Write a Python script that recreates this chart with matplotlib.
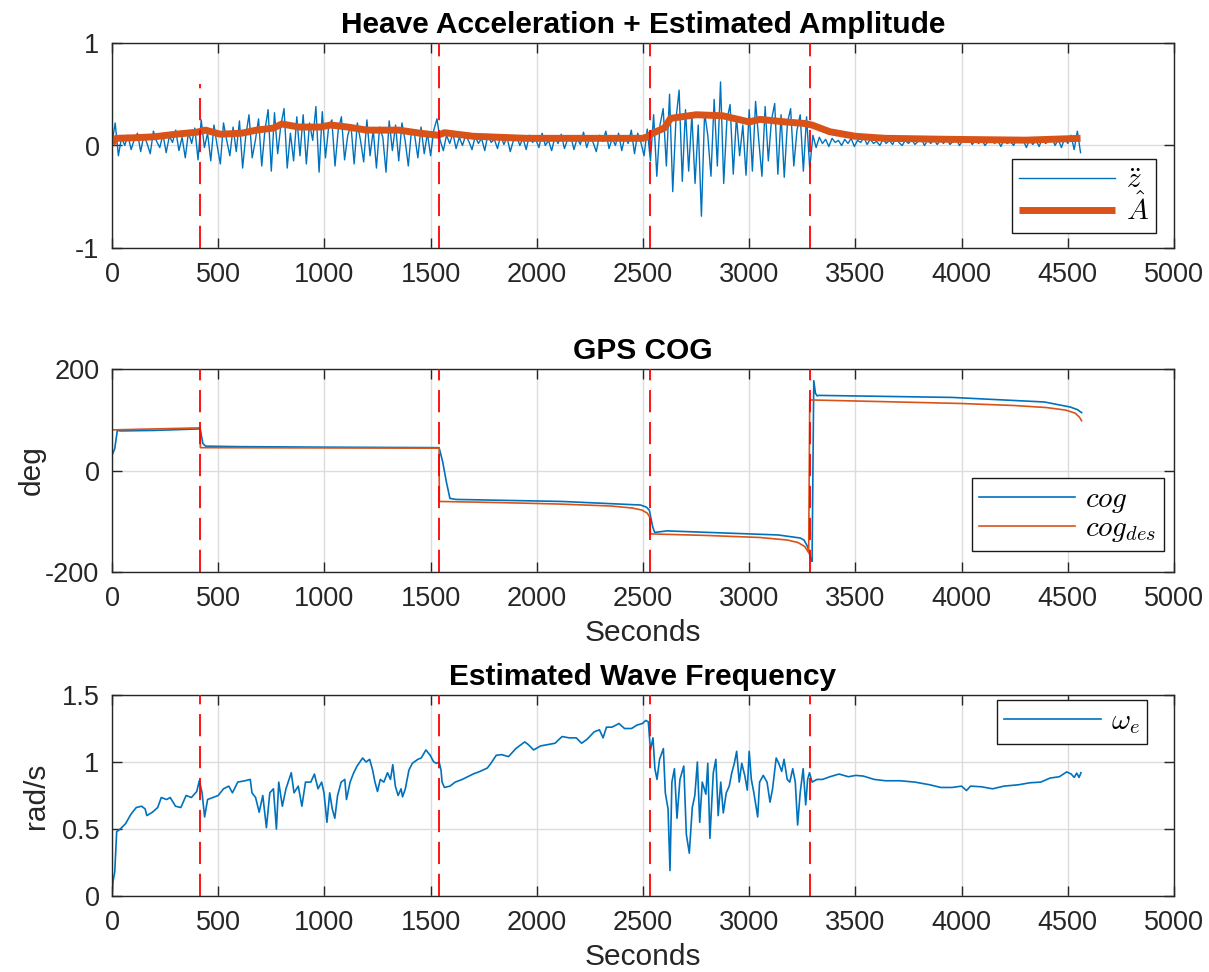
import numpy as np
import matplotlib
matplotlib.use("Agg")
import matplotlib.pyplot as plt

plt.rcParams['font.family'] = ['Liberation Sans', 'DejaVu Sans']
plt.rcParams['mathtext.fontset'] = 'cm'
plt.rcParams['lines.scale_dashes'] = False

BLUE = '#0072BD'
ORANGE = '#D95319'
TXT = '#262626'

# ---------------- data ----------------
# times (s) where the heading setpoint changes
switch_times = [415, 1540, 2535, 3285]
# upper end of the marker line in the heave panel
switch_top_heave = [0.6, 1.0, 1.0, 1.0]

# heave acceleration, one sample every 15 s from 0 to 4560 s
heave_step = 15
heave_acc = [
    0.02, 0.22, -0.10, 0.08, 0.00, 0.10, -0.04, 0.06, 0.12, -0.06,
    0.10, 0.02, -0.08, 0.14, 0.04, -0.02, 0.11, -0.07, 0.09, 0.03,
    0.15, -0.05, 0.08, -0.12, 0.13, 0.02, 0.17, -0.14, 0.25, -0.02,
    0.12, -0.15, 0.20, 0.00, -0.18, 0.22, 0.05, -0.10, 0.18, -0.06,
    0.24, -0.22, 0.10, 0.30, -0.12, 0.05, 0.26, -0.20, 0.15, 0.35,
    -0.25, 0.32, -0.08, 0.20, 0.36, -0.22, 0.12, -0.15, 0.28, -0.10,
    0.30, -0.18, 0.22, 0.05, 0.38, -0.26, 0.33, -0.12, 0.18, 0.25,
    -0.20, 0.15, 0.28, -0.14, 0.10, 0.20, -0.18, 0.22, 0.05, -0.16,
    0.25, -0.10, 0.15, -0.22, 0.18, 0.08, -0.26, 0.24, -0.05, 0.20,
    -0.15, 0.22, 0.05, -0.20, 0.15, 0.10, -0.12, 0.18, -0.08, 0.12,
    -0.10, 0.15, 0.26, 0.05, -0.05, 0.10, 0.02, 0.12, -0.03, 0.08,
    0.00, 0.10, 0.04, -0.04, 0.09, 0.02, 0.07, -0.05, 0.11, 0.03,
    0.06, -0.03, 0.10, 0.01, 0.08, -0.06, 0.05, 0.09, 0.00, 0.07,
    -0.04, 0.10, 0.03, 0.06, -0.02, 0.12, 0.00, 0.05, -0.05, 0.08,
    0.02, 0.11, -0.03, 0.06, 0.09, -0.04, 0.07, 0.01, 0.13, -0.02,
    0.08, 0.03, -0.06, 0.10, 0.04, 0.14, -0.03, 0.07, 0.00, 0.12,
    -0.05, 0.09, 0.02, 0.15, -0.08, 0.12, 0.03, -0.10, 0.16, -0.15,
    0.30, -0.30, 0.20, 0.36, -0.20, 0.50, -0.45, 0.25, 0.54, -0.35,
    0.35, -0.25, 0.30, -0.37, 0.20, -0.69, 0.32, 0.10, -0.30, 0.45,
    -0.20, 0.62, -0.37, 0.25, 0.40, -0.28, 0.28, -0.10, 0.20, -0.29,
    0.35, -0.25, 0.43, 0.05, -0.30, 0.38, -0.15, 0.25, 0.41, -0.28,
    0.30, -0.31, 0.22, 0.36, -0.20, 0.15, 0.30, -0.25, 0.28, -0.22,
    0.10, -0.02, 0.08, 0.02, 0.06, -0.01, 0.07, 0.03, 0.05, 0.00,
    0.06, 0.02, 0.07, -0.01, 0.05, 0.03, 0.08, 0.01, 0.06, 0.02,
    0.04, 0.00, 0.06, 0.02, 0.05, 0.01, 0.07, 0.03, 0.00, 0.05,
    0.02, 0.06, 0.01, 0.04, 0.07, 0.00, 0.05, 0.02, 0.06, 0.01,
    0.05, 0.02, 0.07, 0.01, 0.04, 0.06, 0.00, 0.05, 0.03, 0.07,
    0.01, 0.05, 0.02, 0.06, 0.00, 0.04, 0.07, 0.02, 0.05, -0.01,
    0.06, 0.02, 0.04, 0.00, 0.07, 0.03, 0.05, -0.02, 0.06, 0.01,
    0.05, -0.01, 0.07, 0.02, 0.04, 0.08, 0.00, 0.06, -0.02, 0.07,
    0.02, 0.10, -0.04, 0.14, -0.07,
]
heave_t = np.arange(len(heave_acc)) * heave_step

# estimated amplitude
amp_t = [0, 20, 100, 200, 300, 400, 440, 510, 610, 680, 760, 800, 880,
         980, 1030, 1110, 1200, 1350, 1450, 1535, 1565, 1700, 1950, 2200,
         2500, 2520, 2545, 2600, 2630, 2750, 2875, 3000, 3050, 3170, 3260,
         3295, 3380, 3500, 3640, 3950, 4300, 4560]
amp_v = [0.02, 0.07, 0.075, 0.085, 0.11, 0.13, 0.15, 0.11, 0.12, 0.15,
         0.17, 0.21, 0.18, 0.18, 0.20, 0.18, 0.15, 0.15, 0.12, 0.10, 0.125,
         0.09, 0.07, 0.07, 0.07, 0.085, 0.12, 0.17, 0.265, 0.30, 0.29, 0.23,
         0.255, 0.23, 0.215, 0.20, 0.134, 0.09, 0.07, 0.06, 0.052, 0.07]

# GPS course over ground (deg)
cog_t = [0, 13, 25, 40, 200, 415, 428, 441, 600, 1000, 1540, 1557, 1574,
         1591, 1620, 2119, 2488, 2515, 2530, 2545, 2555, 2613, 3136, 3240,
         3258, 3275, 3289, 3296, 3304, 3312, 3320, 3327, 3955, 4390, 4512,
         4545, 4565]
cog_v = [30, 43, 79, 78, 79, 82, 53, 48, 47, 46, 45, 17, -22, -55, -57,
         -61, -68, -72, -78, -110, -122, -119, -127, -133, -137, -150, -173,
         -179, 177, 152, 147, 148, 144, 135, 125, 120, 114]

# desired course over ground (deg)
cog_des_t = [0, 415, 416, 1540, 1541, 1800, 2100, 2350, 2450, 2495, 2520,
             2532, 2535, 2540, 2800, 3050, 3180, 3230, 3262, 3280, 3285,
             3290, 3600, 4000, 4250, 4400, 4490, 4535, 4555, 4565]
cog_des_v = [80, 84, 45, 44, -61, -63, -66, -70, -74, -78, -84, -92, -125,
             -125, -128, -132, -137, -142, -150, -162, 139, 139, 136, 132,
             128, 124, 119, 113, 105, 98]

# estimated wave encounter frequency (rad/s)
omega_t = [0, 5, 13, 22, 39, 64, 89, 114, 139, 156, 164, 190, 215, 232, 257,
           274, 299, 324, 349, 374, 399, 411, 424, 436, 450, 475, 500, 525,
           550, 567, 592, 626, 651, 659, 676, 693, 710, 727, 743, 760, 774,
           785, 802, 819, 844, 857, 877, 894, 911, 936, 953, 970, 987, 998,
           1012, 1025, 1037, 1049, 1062, 1079, 1096, 1104, 1121, 1138, 1154,
           1180, 1196, 1213, 1227, 1238, 1250, 1263, 1280, 1297, 1311, 1322,
           1334, 1347, 1361, 1368, 1381, 1398, 1414, 1440, 1456, 1478, 1498,
           1515, 1528, 1540, 1549, 1554, 1565, 1591, 1616, 1649, 1675, 1700,
           1733, 1767, 1784, 1809, 1834, 1867, 1901, 1943, 1960, 1985, 2018,
           2052, 2086, 2119, 2153, 2186, 2211, 2237, 2270, 2295, 2312, 2328,
           2354, 2387, 2413, 2446, 2471, 2497, 2513, 2525, 2535, 2547, 2556,
           2566, 2578, 2596, 2605, 2618, 2627, 2636, 2648, 2660, 2674, 2692,
           2704, 2718, 2732, 2744, 2756, 2767, 2779, 2796, 2805, 2815, 2831,
           2843, 2854, 2866, 2878, 2892, 2906, 2918, 2930, 2941, 2953, 2965,
           2979, 2991, 3000, 3010, 3022, 3040, 3049, 3066, 3084, 3098, 3110,
           3127, 3139, 3153, 3164, 3179, 3191, 3205, 3217, 3228, 3240, 3254,
           3266, 3275, 3284, 3296, 3319, 3345, 3380, 3423, 3467, 3502, 3537,
           3589, 3641, 3711, 3780, 3850, 3902, 3955, 4000, 4023, 4042, 4094,
           4146, 4199, 4268, 4321, 4373, 4416, 4460, 4495, 4516, 4530, 4542,
           4553, 4562]
omega_v = [0.0, 0.11, 0.18, 0.48, 0.5, 0.54, 0.61, 0.66, 0.67, 0.65, 0.6,
           0.625, 0.66, 0.735, 0.72, 0.735, 0.67, 0.66, 0.75, 0.735, 0.78,
           0.86, 0.77, 0.59, 0.72, 0.735, 0.75, 0.8, 0.82, 0.77, 0.85, 0.86,
           0.87, 0.77, 0.735, 0.625, 0.75, 0.51, 0.77, 0.8, 0.5, 0.85, 0.67,
           0.8, 0.92, 0.77, 0.82, 0.67, 0.85, 0.85, 0.91, 0.8, 0.85, 0.77,
           0.55, 0.77, 0.65, 0.58, 0.75, 0.85, 0.87, 0.72, 0.85, 0.92, 0.97,
           1.03, 1.0, 1.02, 0.94, 0.85, 0.78, 0.87, 0.85, 0.92, 0.87, 0.98,
           0.82, 0.75, 0.8, 0.74, 0.8, 0.94, 0.99, 1.02, 1.03, 1.09, 1.05,
           1.0, 0.99, 1.0, 0.94, 0.85, 0.81, 0.82, 0.85, 0.87, 0.89, 0.91,
           0.93, 0.955, 0.99, 1.05, 1.055, 1.04, 1.1, 1.15, 1.13, 1.09, 1.12,
           1.13, 1.14, 1.19, 1.18, 1.18, 1.14, 1.17, 1.225, 1.24, 1.18, 1.26,
           1.26, 1.287, 1.25, 1.25, 1.275, 1.287, 1.31, 1.3, 1.09, 1.18, 0.95,
           0.87, 1.02, 1.1, 0.77, 0.65, 0.19, 0.85, 0.95, 0.58, 0.87, 0.97,
           0.46, 0.32, 0.66, 0.75, 1.0, 0.55, 0.85, 0.76, 0.99, 0.43, 0.92,
           1.02, 0.6, 0.85, 0.62, 0.77, 0.82, 0.92, 0.99, 1.08, 0.85, 0.99,
           0.9, 0.79, 1.08, 0.87, 0.77, 0.59, 0.85, 0.9, 0.85, 0.7, 0.8,
           1.03, 0.99, 0.93, 1.02, 0.87, 0.85, 0.95, 0.85, 0.53, 0.77, 0.95,
           0.68, 0.87, 0.92, 0.85, 0.87, 0.87, 0.89, 0.91, 0.89, 0.9, 0.895,
           0.87, 0.86, 0.86, 0.85, 0.83, 0.81, 0.81, 0.82, 0.787, 0.82, 0.815,
           0.80, 0.82, 0.83, 0.845, 0.85, 0.88, 0.89, 0.926, 0.91, 0.885,
           0.917, 0.885, 0.92]

x_ticks = [0, 500, 1000, 1500, 2000, 2500, 3000, 3500, 4000, 4500, 5000]

# ---------------- figure ----------------
FS_TICK = 19.5
FS_TITLE = 21.5
FS_LABEL = 21.5
FS_LEG = 21
fig = plt.figure(figsize=(12.09, 9.72), dpi=100)
W, H = 1209, 972
AX_LEFT, AX_RIGHT = 112, 1174


def make_axes(top_px, bottom_px):
    return fig.add_axes([AX_LEFT / W, 1 - bottom_px / H,
                         (AX_RIGHT - AX_LEFT) / W, (bottom_px - top_px) / H])


def style(ax, ylim, yticks, yticklabels):
    ax.set_xlim(0, 5000)
    ax.set_ylim(*ylim)
    ax.set_xticks(x_ticks)
    ax.set_yticks(yticks)
    ax.set_yticklabels(yticklabels)
    ax.grid(True, color='#DCDCDC', linewidth=1.0)
    ax.set_axisbelow(True)
    ax.tick_params(direction='in', length=7, width=1.0, top=True,
                   right=True, labelsize=FS_TICK, colors=TXT)
    ax.tick_params(axis='x', pad=10)
    ax.tick_params(axis='y', pad=9)
    for s in ax.spines.values():
        s.set_color(TXT)
        s.set_linewidth(1.0)


def markers(ax, tops, bottom):
    for t, top in zip(switch_times, tops):
        ax.plot([t, t], [bottom, top], color='#FF0000', linewidth=1.3,
                dashes=(16, 7), zorder=5)


def legend(ax, **kw):
    leg = ax.legend(fontsize=FS_LEG, frameon=True, fancybox=False,
                    edgecolor='#1a1a1a', framealpha=1, borderaxespad=0,
                    handlelength=3.3, handletextpad=0.35, borderpad=0.25,
                    labelspacing=-0.05, **kw)
    leg.get_frame().set_linewidth(1.0)
    return leg


def title(ax, text):
    ax.set_title(text, fontsize=FS_TITLE, fontweight='bold', color='black',
                 pad=7)


def ylabel(ax, text, right_px):
    # right_px: pixel column of the label's right-hand edge
    ax.set_ylabel(text, fontsize=FS_LABEL, color=TXT)
    ax.yaxis.set_label_coords((right_px - AX_LEFT) / (AX_RIGHT - AX_LEFT),
                              0.5)


# heave panel
ax1 = make_axes(43, 248)
ax1.plot(heave_t, heave_acc, color=BLUE, linewidth=1.0, label=r'$\ddot{z}$')
ax1.plot(amp_t, amp_v, color=ORANGE, linewidth=5, label=r'$\hat{A}$',
         solid_capstyle='butt')
markers(ax1, switch_top_heave, -1)
style(ax1, (-1, 1), [-1, 0, 1], ['-1', '0', '1'])
title(ax1, 'Heave Acceleration + Estimated Amplitude')
legend(ax1, loc='lower right', bbox_to_anchor=(0.983, 0.073))

# course panel
ax2 = make_axes(369, 572)
ax2.plot(cog_t, cog_v, color=BLUE, linewidth=1.2, label=r'$cog$')
ax2.plot(cog_des_t, cog_des_v, color=ORANGE, linewidth=1.2,
         label=r'$cog_{des}$')
markers(ax2, [200] * len(switch_times), -200)
style(ax2, (-200, 200), [-200, 0, 200], ['-200', '0', '200'])
title(ax2, 'GPS COG')
ylabel(ax2, 'deg', 46)
ax2.set_xlabel('Seconds', fontsize=FS_LABEL, color=TXT, labelpad=5)
legend(ax2, loc='lower right', bbox_to_anchor=(0.9906, 0.103))

# wave frequency panel
ax3 = make_axes(695, 896)
ax3.plot(omega_t, omega_v, color=BLUE, linewidth=1.2, label=r'$\omega_e$')
markers(ax3, [1.5] * len(switch_times), 0)
style(ax3, (0, 1.5), [0, 0.5, 1, 1.5], ['0', '0.5', '1', '1.5'])
title(ax3, 'Estimated Wave Frequency')
ylabel(ax3, 'rad/s', 50)
ax3.set_xlabel('Seconds', fontsize=FS_LABEL, color=TXT, labelpad=5)
legend(ax3, loc='upper right', bbox_to_anchor=(0.9746, 0.975))

fig.savefig('out.png', dpi=100, facecolor='white')
